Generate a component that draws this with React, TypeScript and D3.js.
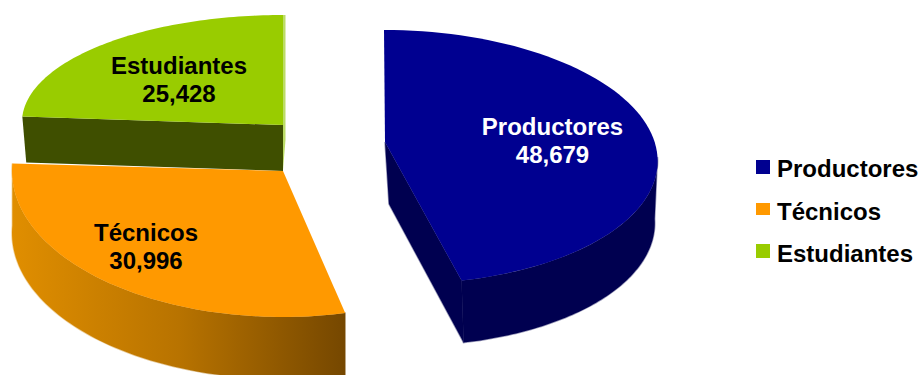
import React from "react";
import * as d3 from "d3";

// Participants by group
const categories = ["Productores", "Técnicos", "Estudiantes"];
const values = [48679, 30996, 25428];
const valueLabels = ["48,679", "30,996", "25,428"];
const topColors = ["#000090", "#ff9900", "#99cc00"];

const WIDTH = 922;
const HEIGHT = 375;

type Wedge = {
  apex: [number, number]; // inner point of the wedge on the top face
  cx: number;
  cy: number;
  rx: number;
  ry: number;
  tilt: number; // horizontal drift of the rim from back to front
  depth: number;
  bottomScale: number;
  bottomShift: number;
  label: [number, number];
  labelColor: string;
};

// Exploded, perspective-projected placement of each wedge
const wedges: Wedge[] = [
  { apex: [385, 142], cx: 384, cy: 157, rx: 265, ry: 127, tilt: 17, depth: 62, bottomScale: 0.975, bottomShift: 4, label: [552.5, 135], labelColor: "#ffffff" },
  { apex: [283, 171], cx: 283, cy: 171, rx: 271, ry: 146, tilt: 0, depth: 62, bottomScale: 1, bottomShift: 0, label: [146, 241], labelColor: "#000000" },
  { apex: [283, 125], cx: 283, cy: 122, rx: 261, ry: 107, tilt: 0, depth: 46, bottomScale: 0.985, bottomShift: 0, label: [179, 74], labelColor: "#000000" },
];

const legendRows = [
  { y: 160, h: 14, baseline: 177 },
  { y: 203, h: 12, baseline: 220 },
  { y: 244, h: 14, baseline: 262 },
];

const slices = d3
  .pie<number>()
  .sort(null)
  .startAngle(0)
  .endAngle(2 * Math.PI)(values);

const rimPoint = (w: Wedge, t: number): [number, number] => [
  w.cx + w.rx * Math.sin(t) + (w.tilt * (1 - Math.cos(t))) / 2,
  w.cy - w.ry * Math.cos(t),
];

const lower = (w: Wedge, p: [number, number]): [number, number] => [
  w.cx + (p[0] - w.cx) * w.bottomScale + w.bottomShift,
  p[1] + w.depth,
];

const rim = (w: Wedge, a: number, b: number): [number, number][] =>
  d3.range(0, 81).map((i) => rimPoint(w, a + ((b - a) * i) / 80));

const closed = d3.line().curve(d3.curveLinearClosed);

const sideStyle = { strokeWidth: 1.5, strokeOpacity: 0.4 };

export default function App() {
  const [blue, orange, green] = wedges;
  const [sBlue, sOrange, sGreen] = slices;

  const blueWall = rim(blue, Math.PI / 2, sBlue.endAngle);
  const blueEnd = rimPoint(blue, sBlue.endAngle);
  const greenStart = rimPoint(green, sGreen.startAngle);

  return (
    <svg
      width={WIDTH}
      height={HEIGHT}
      style={{ position: "absolute", left: 0, top: 0, background: "#ffffff" }}
      fontFamily="'Liberation Sans', Arial, sans-serif"
      fontWeight="bold"
      fontSize={24}
    >
      <defs>
        <linearGradient id="orangeSide" gradientUnits="userSpaceOnUse" x1={12} x2={346} y1={0} y2={0}>
          <stop offset="0" stopColor="#e08e00" />
          <stop offset="0.5" stopColor="#b87300" />
          <stop offset="1" stopColor="#754700" />
        </linearGradient>
      </defs>

      {/* Estudiantes: cut face, then top */}
      <path
        d={closed([green.apex, greenStart, lower(green, greenStart), lower(green, green.apex)])!}
        fill="#3f4f00"
      />
      <path
        d={closed([[285.5, 15], [285.5, 140], [283, 170], [283, 15]])!}
        fill="#bcdc66"
      />
      <path d={closed([green.apex, ...rim(green, sGreen.startAngle, sGreen.endAngle)])!} fill={topColors[2]} />

      {/* Técnicos: outer wall, then top */}
      <path
        d={closed([...rim(orange, sOrange.startAngle, sOrange.endAngle), ...rim(orange, sOrange.endAngle, sOrange.startAngle).map((p) => lower(orange, p))])!}
        fill="url(#orangeSide)"
        stroke="url(#orangeSide)"
        {...sideStyle}
      />
      <path d={closed([orange.apex, ...rim(orange, sOrange.startAngle, sOrange.endAngle)])!} fill={topColors[1]} />

      {/* Productores: outer wall and cut face, then top */}
      <path
        d={closed([...blueWall, ...blueWall.slice().reverse().map((p) => lower(blue, p))])!}
        fill="#000050"
        stroke="#000050"
        {...sideStyle}
      />
      <path
        d={closed([blue.apex, blueEnd, lower(blue, blueEnd), lower(blue, blue.apex)])!}
        fill="#000050"
        stroke="#000050"
        {...sideStyle}
      />
      <path d={closed([blue.apex, ...rim(blue, sBlue.startAngle, sBlue.endAngle)])!} fill={topColors[0]} />

      {/* Value labels */}
      {wedges.map((w, i) => (
        <text key={categories[i]} textAnchor="middle" fill={w.labelColor}>
          <tspan x={w.label[0]} y={w.label[1]}>{categories[i]}</tspan>
          <tspan x={w.label[0]} y={w.label[1] + 28}>{valueLabels[i]}</tspan>
        </text>
      ))}

      {/* Legend */}
      {categories.map((c, i) => (
        <g key={c}>
          <rect x={756} y={legendRows[i].y} width={14} height={legendRows[i].h} fill={topColors[i]} />
          <text x={777} y={legendRows[i].baseline} fill="#000000">{c}</text>
        </g>
      ))}
    </svg>
  );
}
